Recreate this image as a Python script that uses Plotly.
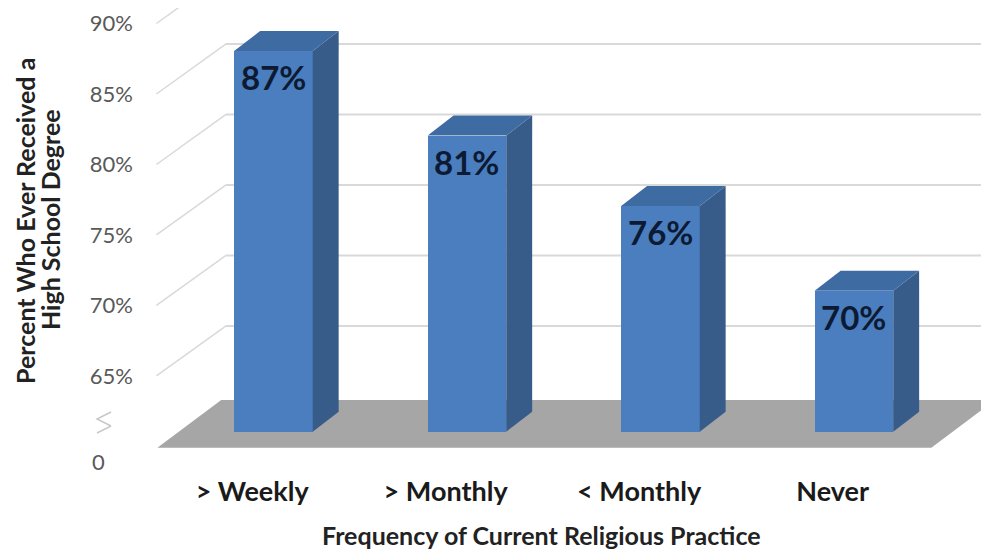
import plotly.graph_objects as go

# ---- data ----
categories = ["> Weekly", "> Monthly", "< Monthly", "Never"]
values = [87, 81, 76, 70]
bar_labels = ["87%", "81%", "76%", "70%"]
tick_values = [65, 70, 75, 80, 85, 90]
tick_labels = ["65%", "70%", "75%", "80%", "85%", "90%"]
axis_break_base = 60  # bars start at the axis break

# ---- geometry (style) ----
OFF = 8                      # page body margin
W, H = 989 - OFF, 553 - OFF
ML, MR, MT, MB = 142, 0, 0, 83
PW, PH = W - ML - MR, H - MT - MB
X_RANGE = [-0.638, 3.698]
Y_RANGE = [57.28, 90.05]
BAR_W = 0.406
BAR_DX, BAR_DY = 0.134, 1.42           # bar depth offset (x units, y units)
FRONT_SHIFT = -1.05                     # label plane vs bar plane
WALL_DX, WALL_DY = 0.36, 3.55           # side wall depth
FLOOR_DX, FLOOR_DY = 0.33, 3.4
FONT = "Lato"

C_FRONT = "#4a7ebe"
C_SIDE = "#375c8a"
C_TOP = "#3f6ba3"
C_FLOOR = "#a6a6a6"
C_GRID = "#d9d9d9"

n = len(categories)
xs = list(range(n))

fig = go.Figure()

shapes = []
# wall gridlines (side wall diagonal + back wall horizontal)
x_front_wall = X_RANGE[0] + 0.033
for t in tick_values:
    y0 = t + FRONT_SHIFT
    y1 = y0 + WALL_DY
    shapes.append(dict(type="line", xref="x", yref="y", x0=x_front_wall, y0=y0,
                       x1=x_front_wall + WALL_DX, y1=y1,
                       line=dict(color=C_GRID, width=1.5), layer="below"))
    shapes.append(dict(type="line", xref="x", yref="y", x0=x_front_wall + WALL_DX, y0=y1,
                       x1=X_RANGE[1], y1=y1,
                       line=dict(color=C_GRID, width=2), layer="below"))

# floor
fl = -0.6
fr = (n - 1) + 0.4
f_front = axis_break_base - 1.15
f_back = f_front + FLOOR_DY
shapes.append(dict(type="path", xref="x", yref="y",
                   path=f"M {fl},{f_front} L {fr},{f_front} L {fr+FLOOR_DX},{f_back} L {fl+FLOOR_DX},{f_back} Z",
                   fillcolor=C_FLOOR, line=dict(width=0), layer="below"))

# bars: front faces
fig.add_trace(go.Bar(x=xs, y=[v - axis_break_base for v in values], base=axis_break_base,
                     width=BAR_W, marker=dict(color=C_FRONT, line=dict(width=0)),
                     hoverinfo="skip", showlegend=False))

# bars: side and top faces
for x, v in zip(xs, values):
    xl, xr = x - BAR_W / 2, x + BAR_W / 2
    shapes.append(dict(type="path", xref="x", yref="y",
                       path=f"M {xr},{axis_break_base} L {xr+BAR_DX},{axis_break_base+BAR_DY} "
                            f"L {xr+BAR_DX},{v+BAR_DY} L {xr},{v} Z",
                       fillcolor=C_SIDE, line=dict(width=0), layer="above"))
    shapes.append(dict(type="path", xref="x", yref="y",
                       path=f"M {xl},{v} L {xl+BAR_DX},{v+BAR_DY} L {xr+BAR_DX},{v+BAR_DY} L {xr},{v} Z",
                       fillcolor=C_TOP, line=dict(width=0), layer="above"))

# helpers: screen pixel -> paper
def px(xp):
    return (xp - OFF - ML) / PW
def py(yp):
    return (MT + PH - (yp - OFF)) / PH

# axis break symbol
brk = [(111, 412), (97, 419), (111, 426)]
brk2 = [(97, 433), (111, 426)]
path = "M " + " L ".join(f"{px(a)},{py(b)}" for a, b in brk) + " M " + " L ".join(f"{px(a)},{py(b)}" for a, b in brk2)
shapes.append(dict(type="path", xref="paper", yref="paper", path=path,
                   line=dict(color="#c8c8c8", width=1.5)))

annotations = []
for x, v, lab in zip(xs, values, bar_labels):
    annotations.append(dict(x=x, y=v, xref="x", yref="y", text=lab, showarrow=False,
                            yshift=-26, font=dict(family=FONT, size=33, color="#0d1a33", weight="bold")))

title_font = dict(family=FONT, size=25, color="#222222", weight="bold")
annotations.append(dict(xref="paper", yref="paper", x=px(541), y=py(535),
                        xanchor="center", yanchor="middle",
                        text="Frequency of Current Religious Practice", showarrow=False,
                        font=title_font))
annotations.append(dict(xref="paper", yref="paper", x=px(25), y=py(221),
                        xanchor="center", yanchor="middle",
                        text="Percent Who Ever Received a", showarrow=False,
                        textangle=-90, font=title_font))
annotations.append(dict(xref="paper", yref="paper", x=px(50), y=py(220),
                        xanchor="center", yanchor="middle",
                        text="High School Degree", showarrow=False,
                        textangle=-90, font=title_font))

fig.update_layout(
    width=W, height=H,
    margin=dict(l=ML, r=MR, t=MT, b=MB),
    paper_bgcolor="white", plot_bgcolor="white",
    shapes=shapes, annotations=annotations,
    bargap=0,
    xaxis=dict(range=X_RANGE, showgrid=False, zeroline=False, showline=False, automargin=False,
               tickmode="array", tickvals=[x - 0.11 for x in xs], ticktext=categories,
               ticks="", ticklabelstandoff=3,
               tickfont=dict(family=FONT, size=27, color="#1a1a1a", weight="bold")),
    yaxis=dict(range=Y_RANGE, showgrid=False, zeroline=False, showline=False, automargin=False,
               tickmode="array",
               tickvals=[t + FRONT_SHIFT for t in tick_values] + [57.8],
               ticktext=tick_labels + ["0" + "&nbsp;" * 5],
               ticks="", ticklabelstandoff=16,
               tickfont=dict(family=FONT, size=22, color="#595959")),
)

fig.write_html("out.html")
